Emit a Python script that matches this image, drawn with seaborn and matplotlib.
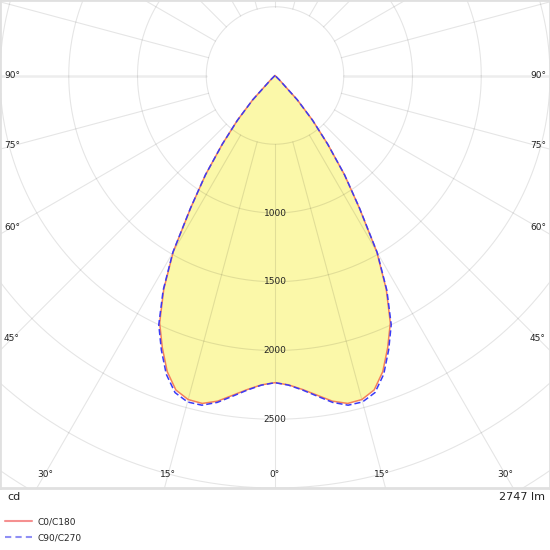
import numpy as np
import pandas as pd
import matplotlib
matplotlib.use("Agg")
import matplotlib.pyplot as plt
from matplotlib.lines import Line2D
import seaborn as sns

# ---- data (cd, gamma angles 0..90 in 2.5 deg steps) ----
gamma = [0, 2.5, 5, 7.5, 10, 12.5, 15, 17.5, 20, 22.5, 25, 27.5, 30, 32.5, 35,
         37.5, 40, 42.5, 45, 47.5, 50, 52.5, 55, 57.5, 60, 62.5, 65, 67.5, 70,
         72.5, 75, 77.5, 80, 82.5, 85, 87.5, 90]
c0_c180 = [2234, 2252, 2292, 2345, 2405, 2443, 2440, 2398, 2292, 2142, 1985, 1752, 1480,
           1140, 880, 630, 425, 240, 45, 0, 0, 0, 0, 0, 0, 0, 0, 0, 0,
           0, 0, 0, 0, 0, 0, 0, 0]
c90_c270 = [2234, 2254, 2296, 2352, 2414, 2456, 2458, 2418, 2312, 2160, 2000, 1762, 1486,
            1144, 882, 630, 425, 240, 45, 0, 0, 0, 0, 0, 0, 0, 0, 0, 0,
            0, 0, 0, 0, 0, 0, 0, 0]
series_names = ["C0/C180", "C90/C270"]
ring_values = [500, 1000, 1500, 2000, 2500, 3000, 3500, 4000]
ring_labels = [1000, 1500, 2000, 2500]
angle_labels_side = [45, 60, 75, 90]
angle_labels_bottom = [0, 15, 30]
flux_text = "2747 lm"
unit_text = "cd"

sns.set_theme(style="white")
plt.rcParams["font.family"] = ["DejaVu Sans"]

W, H = 550, 550
fig = plt.figure(figsize=(W / 100, H / 100), dpi=100)
frame_h = 488
ax = fig.add_axes([0, 1 - frame_h / H, 1, frame_h / H])

k = 0.1375          # px per cd
cy_px = 75.5        # centre from top of frame
ax.set_xlim(-W / 2 / k, W / 2 / k)
ax.set_ylim(-(frame_h - cy_px) / k, cy_px / k)

grid_c = (0, 0, 0, 0.10)

def build(vals):
    g = np.array(gamma, float)
    v = np.array(vals, float)
    th = np.concatenate([-g[::-1], g[1:]])
    r = np.concatenate([v[::-1], v[1:]])
    t = np.radians(th)
    return pd.DataFrame({"x": r * np.sin(t), "y": -r * np.cos(t)})

d0 = build(c0_c180)
d90 = build(c90_c270)

# fill
ax.fill(d0["x"], d0["y"], color="#fbf8a9", zorder=1, lw=0)

# rings
tt = np.linspace(0, 2 * np.pi, 721)
for rv in ring_values:
    ax.plot(rv * np.cos(tt), rv * np.sin(tt), color=grid_c, lw=0.8, zorder=2)
# spokes every 15 deg starting at first ring
for a in range(0, 360, 15):
    t = np.radians(a)
    lw = 1.8 if a in (90, 270) else 0.8
    c = (0, 0, 0, 0.07) if a in (90, 270) else grid_c
    ax.plot([ring_values[0] * np.sin(t), 6000 * np.sin(t)],
            [-ring_values[0] * np.cos(t), -6000 * np.cos(t)], color=c, lw=lw, zorder=2)

# curves
sns.lineplot(data=d0, x="x", y="y", sort=False, estimator=None, ax=ax,
             color="#f4805a", lw=1.1, zorder=3)
sns.lineplot(data=d90, x="x", y="y", sort=False, estimator=None, ax=ax,
             color="#3b3bf5", lw=1.1, zorder=4, linestyle=(0, (4, 2)))

# ring labels
for rv in ring_labels:
    ax.text(0, -rv, str(rv), ha="center", va="center", fontsize=6.5, color="#222222", zorder=5)

# angle labels at inset rectangle
inset_x = (W / 2 - 12) / k
inset_y = (frame_h - 14 - cy_px) / k
for a in angle_labels_side:
    t = np.radians(a)
    for s in (-1, 1):
        x = s * inset_x
        y = -inset_x * np.cos(t) / np.sin(t)
        ax.text(x, y, f"{a}°", ha="center", va="center", fontsize=6.5, color="#222222", zorder=5)
for a in angle_labels_bottom:
    t = np.radians(a)
    for s in ((-1, 1) if a else (1,)):
        x = s * inset_y * np.tan(t)
        ax.text(x, -inset_y, f"{a}°", ha="center", va="center", fontsize=6.5, color="#222222", zorder=5)

ax.set_xticks([]); ax.set_yticks([])
ax.set_xlabel(""); ax.set_ylabel("")
for sp in ax.spines.values():
    sp.set_color("#e0e0e0")
    sp.set_linewidth(2)
    sp.set_visible(True)
if ax.get_legend():
    ax.get_legend().remove()

fig.text(7 / W, 1 - 497 / H, unit_text, ha="left", va="center", fontsize=8, color="#222222")
fig.text(545 / W, 1 - 497 / H, flux_text, ha="right", va="center", fontsize=8, color="#222222")

handles = [Line2D([], [], color="#f59090", lw=1.5),
           Line2D([], [], color="#8f8ff5", lw=1.5, linestyle=(0, (3, 2)))]
fig.legend(handles, series_names, loc="upper left", bbox_to_anchor=(0.0, 1 - 513 / H),
           frameon=False, fontsize=6.5, handlelength=3.0, handletextpad=0.6,
           labelspacing=0.75, borderaxespad=0.3, borderpad=0.2)

fig.savefig("out.png", dpi=100)
